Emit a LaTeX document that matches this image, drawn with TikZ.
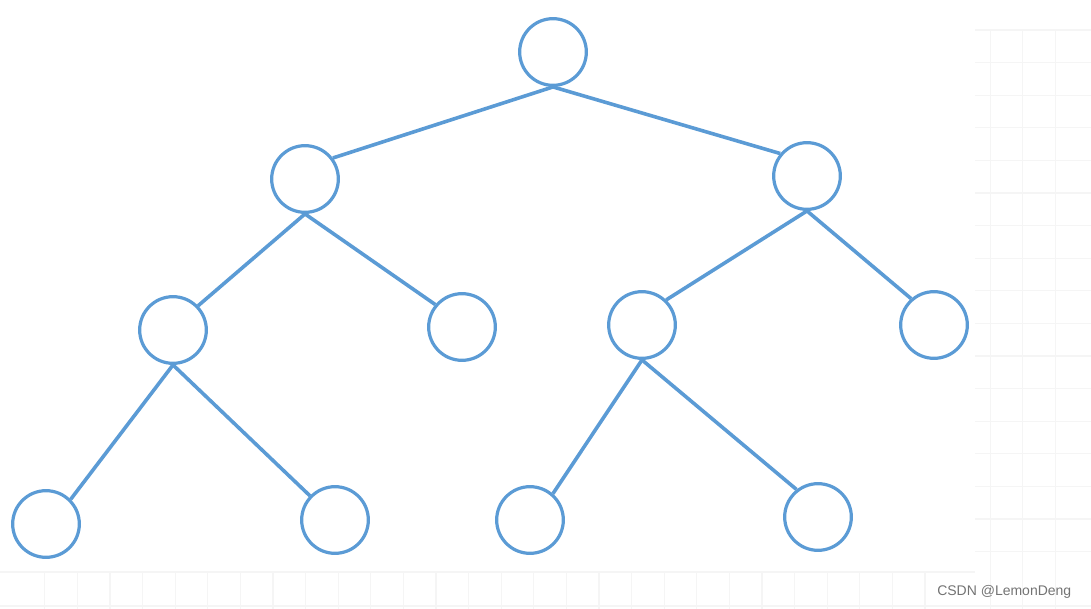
\documentclass[tikz,border=0pt]{standalone}
\usepackage{fontspec}
\newfontfamily\marksans{Liberation Sans}
\definecolor{treeblue}{HTML}{5B9BD5}
\begin{document}
\begin{tikzpicture}[x=0.75pt, y=-0.75pt,
    treenode/.style={circle, draw=treeblue, line width=2.4pt, minimum size=50pt, inner sep=0pt},
    treeedge/.style={draw=treeblue, line width=2.7pt},
    faintgrid/.style={draw=black!4, line width=0.8pt}]
    \useasboundingbox (0,0) rectangle (1091,609);

    % 背景网格
    \foreach \k in {0,...,27}
        \draw[faintgrid] ({925-32.6*\k},572) -- ({925-32.6*\k},609);
    \foreach \k in {2,...,4}
        \draw[faintgrid] ({925+32.6*\k},30) -- ({925+32.6*\k},609);
    \foreach \k in {0,...,16}
        \draw[faintgrid] (975,{30+32.6*\k}) -- (1091,{30+32.6*\k});
    \draw[faintgrid] (0,572) -- (975,572);
    \draw[faintgrid] (0,606) -- (1091,606);

    % 结点
    \node[treenode] (root) at (553,52) {};
    \node[treenode] (l) at (305,179) {};
    \node[treenode] (r) at (807,176) {};
    \node[treenode] (ll) at (173,330) {};
    \node[treenode] (lr) at (462,327) {};
    \node[treenode] (rl) at (642,325) {};
    \node[treenode] (rr) at (934,325) {};
    \node[treenode] (lll) at (46,524) {};
    \node[treenode] (llr) at (335,520) {};
    \node[treenode] (rll) at (530,520) {};
    \node[treenode] (rlr) at (818,517) {};

    % 连线
    \draw[treeedge] (root.south) -- (l.37);
    \draw[treeedge] (root.south) -- (r.140);
    \draw[treeedge] (l.south) -- (ll.44);
    \draw[treeedge] (l.south) -- (lr.140);
    \draw[treeedge] (r.south) -- (rl.46);
    \draw[treeedge] (r.south) -- (rr.131);
    \draw[treeedge] (ll.south) -- (lll.45);
    \draw[treeedge] (ll.south) -- (llr.136);
    \draw[treeedge] (rl.south) -- (rll.49);
    \draw[treeedge] (rl.south) -- (rlr.128);

    % 水印
    \node[text=black!55, font=\marksans\fontsize{10.5pt}{12pt}\selectfont, anchor=east] (mark) at (1076,592) {CSDN @LemonDeng};
\end{tikzpicture}
\end{document}
